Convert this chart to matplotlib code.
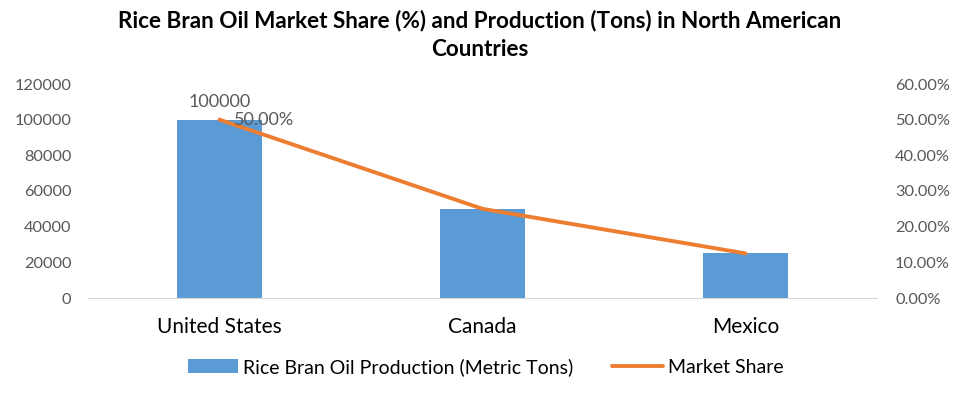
import matplotlib.pyplot as plt
import numpy as np
from matplotlib.ticker import FuncFormatter

plt.rcParams['font.family'] = ['Lato', 'DejaVu Sans']

countries = ["United States", "Canada", "Mexico"]
production = [100000, 50000, 25000]
share = [0.50, 0.25, 0.125]

fig = plt.figure(figsize=(9.65, 3.99), dpi=100)
ax = fig.add_axes([88 / 965, 1 - 298 / 399, 789 / 965, 214 / 399])
ax2 = ax.twinx()

x = np.arange(len(countries))
ax.bar(x, production, width=0.32, color="#5b9bd5", zorder=2,
       label="Rice Bran Oil Production (Metric Tons)")
ax2.plot(x, share, color="#ed7d31", lw=2.8, solid_capstyle="round",
         label="Market Share")

ax.set_xlim(-0.5, 2.5)
ax.set_ylim(0, 120000)
ax2.set_ylim(0, 0.6)
ax.set_yticks(np.arange(0, 120001, 20000))
ax2.set_yticks(np.arange(0, 0.61, 0.1))
ax2.yaxis.set_major_formatter(FuncFormatter(lambda v, p: f"{v*100:.2f}%"))

ax.set_xticks(x)
ax.set_xticklabels(countries, fontsize=15, color="black")

for a in (ax, ax2):
    for s in a.spines.values():
        s.set_visible(False)
    a.tick_params(length=0)
ax.spines["bottom"].set_visible(True)
ax.spines["bottom"].set_color("#d9d9d9")
ax.tick_params(axis="y", labelsize=11.8, labelcolor="#595959", pad=12)
ax.tick_params(axis="x", pad=14)
ax2.tick_params(axis="y", labelsize=11.8, labelcolor="#595959", pad=13)

# data labels on first point only
ax.annotate(f"{production[0]}", (x[0], production[0]), xytext=(0, 13),
            textcoords="offset points", ha="center", va="center",
            fontsize=13, color="#595959")
ax2.annotate(f"{share[0]*100:.2f}%", (x[0], share[0]), xytext=(32, 0),
             textcoords="offset points", ha="center", va="center",
             fontsize=13, color="#595959")

fig.suptitle("Rice Bran Oil Market Share (%) and Production (Tons) in North American\nCountries",
             x=0.497, y=0.975, fontsize=16.2, fontweight="bold", linespacing=1.45)

h1, l1 = ax.get_legend_handles_labels()
h2, l2 = ax2.get_legend_handles_labels()
fig.legend(h1 + h2, l1 + l2, loc="center", bbox_to_anchor=(0.503, 0.08),
           ncol=2, frameon=False, fontsize=14, handlelength=2.6,
           handletextpad=0.25, columnspacing=2.0)

plt.savefig("out.png", dpi=100)
